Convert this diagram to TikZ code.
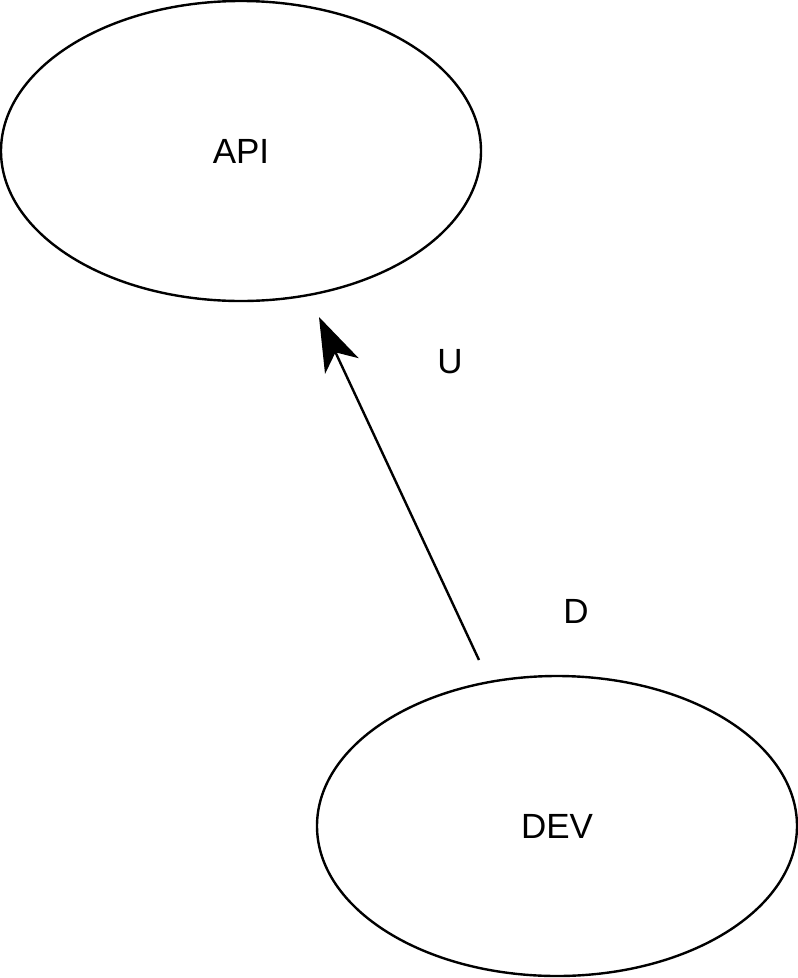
\documentclass[tikz,border=0pt]{standalone}
\usepackage{fontspec}
\setmainfont{Liberation Sans}
\usetikzlibrary{arrows.meta,shapes.geometric}
\begin{document}
\begin{tikzpicture}[x=1pt,y=-1pt,
  ell/.style={draw=black,line width=2.4pt,ellipse,minimum width=480pt,minimum height=300pt,inner sep=0pt,font=\fontsize{35}{42}\selectfont},
  lbl/.style={font=\fontsize{35}{42}\selectfont,inner sep=0pt},
  conn/.style={line width=2.4pt,-{Stealth[length=54pt,width=37pt,inset=15pt]}}]
\useasboundingbox (0,0) rectangle (798,978);
\node[ell] (api) at (241,151) {API};
\node[ell] (dev) at (557,826) {DEV};
\coordinate (s) at (479,660);
\coordinate (t) at (319,317);
\draw[conn] (s) -- (t);
\node[lbl] (u) at (450,362) {U};
\node[lbl] (d) at (576,611) {D};
\end{tikzpicture}
\end{document}
